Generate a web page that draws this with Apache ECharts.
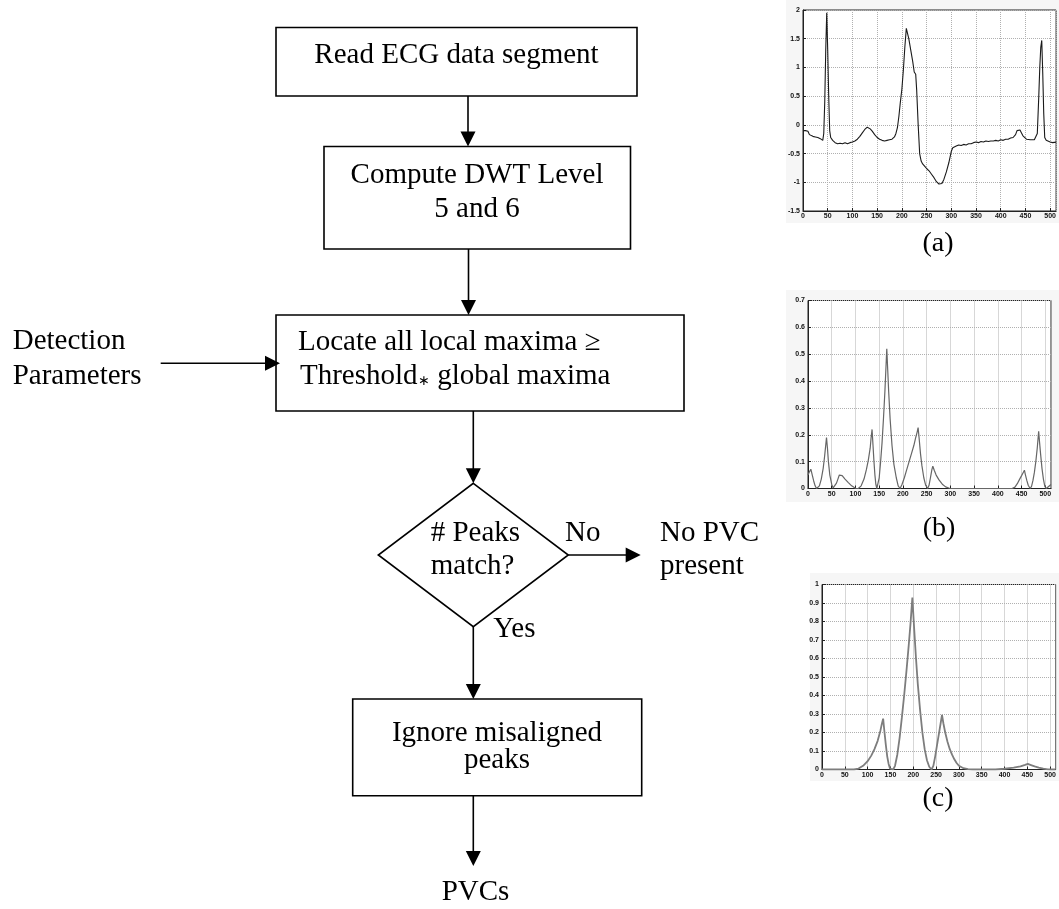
<!DOCTYPE html>
<html>
<head>
<meta charset="utf-8">
<script src="https://cdn.jsdelivr.net/npm/echarts@6/dist/echarts.min.js"></script>
<style>
html,body{margin:0;padding:0;background:#fff;}
#c{width:1059px;height:909px;}
</style>
</head>
<body>
<div id="c"></div>
<script>
// ---------- Data ----------
// (a) ECG data segment
const ecgX = [0,5,10,13,16,20,25,30,35,38,40,42,44,46,48,50,52,54,56,60,65,70,75,80,85,90,95,100,105,110,115,120,125,130,133,136,140,145,150,155,160,165,170,175,180,185,188,191,194,197,200,203,206,209,211,214,218,222,225,228,230,233,236,239,242,246,250,255,260,265,270,275,278,281,285,290,295,300,303,306,310,315,320,325,330,335,340,345,350,355,360,365,370,375,380,385,390,395,400,405,410,415,420,425,430,433,436,439,442,445,448,452,456,460,464,468,471,474,477,479,481,483,485,487,489,492,496,500,505,512];
const ecgY = [-0.1,-0.1,-0.11,-0.17,-0.2,-0.2,-0.21,-0.22,-0.24,-0.26,-0.27,-0.15,0.4,1.3,1.95,1.3,0.5,-0.1,-0.22,-0.27,-0.31,-0.33,-0.32,-0.33,-0.31,-0.33,-0.31,-0.3,-0.28,-0.25,-0.2,-0.14,-0.08,-0.04,-0.05,-0.07,-0.11,-0.17,-0.22,-0.25,-0.27,-0.28,-0.27,-0.26,-0.25,-0.21,-0.15,-0.05,0.15,0.4,0.62,0.95,1.35,1.68,1.66,1.5,1.3,1.1,0.92,0.88,0.6,0.0,-0.5,-0.63,-0.68,-0.72,-0.76,-0.8,-0.86,-0.92,-0.99,-1.03,-1.04,-1.02,-0.95,-0.82,-0.66,-0.46,-0.4,-0.37,-0.37,-0.35,-0.36,-0.34,-0.35,-0.33,-0.33,-0.31,-0.3,-0.31,-0.29,-0.3,-0.28,-0.29,-0.28,-0.28,-0.27,-0.28,-0.26,-0.27,-0.25,-0.25,-0.23,-0.22,-0.17,-0.1,-0.07,-0.09,-0.14,-0.19,-0.22,-0.25,-0.27,-0.26,-0.25,-0.26,-0.25,-0.15,0.5,1.0,1.35,1.47,0.9,0.2,-0.22,-0.27,-0.28,-0.3,-0.31,-0.3];

// (b) DWT level 5 detail magnitude
const d5X = [0,3,6,9,12,15,18,21,24,28,32,35,37,39,41,43,46,50,53,55,57,60,63,66,68,72,78,85,92,100,106,112,118,123,127,131,133,135,137,139,141,143,145,147,150,153,156,159,162,164,166,168,170,173,177,181,186,190,194,198,203,208,213,218,223,227,230,232,234,237,240,244,248,252,255,258,261,263,266,270,276,283,290,298,305,430,436,441,446,450,453,456,458,461,464,468,471,474,477,480,483,486,488,490,493,496,499,502,506,512];
const d5Y = [0.05,0.062,0.072,0.05,0.028,0.01,0.0,0.0,0.01,0.035,0.075,0.12,0.155,0.19,0.15,0.1,0.05,0.015,0.002,0.0,0.005,0.02,0.035,0.05,0.056,0.048,0.035,0.022,0.01,0.001,0.0,0.01,0.035,0.07,0.105,0.15,0.19,0.22,0.16,0.1,0.05,0.015,0.0,0.005,0.04,0.1,0.17,0.26,0.36,0.44,0.52,0.44,0.36,0.26,0.16,0.09,0.04,0.01,0.0,0.015,0.04,0.07,0.1,0.13,0.16,0.19,0.21,0.227,0.19,0.13,0.085,0.04,0.012,0.0,0.012,0.04,0.07,0.083,0.068,0.05,0.032,0.016,0.006,0.001,0.0,0.0,0.005,0.018,0.035,0.048,0.058,0.068,0.052,0.03,0.012,0.0,0.008,0.03,0.06,0.1,0.15,0.213,0.17,0.13,0.075,0.035,0.008,0.0,0.005,0.015];

// (c) DWT level 6 detail magnitude
const d6X = [0,20,40,60,70,80,90,100,108,115,122,128,131,134,137,140,143,146,149,152,156,160,165,170,175,180,185,190,194,198,202,206,210,215,220,225,230,235,240,244,248,252,256,260,263,266,270,275,280,285,290,295,300,310,320,330,380,400,420,435,445,451,458,466,475,485,495,500,512];
const d6Y = [0,0,0,0,0,0.005,0.02,0.045,0.075,0.11,0.155,0.21,0.245,0.275,0.2,0.13,0.07,0.03,0.005,0,0,0.02,0.08,0.17,0.28,0.4,0.53,0.67,0.79,0.93,0.76,0.6,0.46,0.32,0.2,0.11,0.05,0.015,0,0.02,0.07,0.13,0.19,0.25,0.295,0.25,0.2,0.15,0.11,0.08,0.055,0.035,0.02,0.007,0.002,0,0,0.004,0.01,0.017,0.025,0.03,0.024,0.017,0.01,0.005,0.001,0,0];

// Axis settings
const xTickStep = 50, xMax = 512;
const aRange = [-1.5, 2, 0.5];
const bRange = [0, 0.7, 0.1];
const cRange = [0, 1, 0.1];
const panelLabels = ['(a)', '(b)', '(c)'];

// ---------- Rendering ----------
const pairs = (xs, ys) => xs.map((x, i) => [x, ys[i]]);
const chart = echarts.init(document.getElementById('c'), null, {renderer: 'canvas'});

const SERIF = '"Liberation Serif", "Times New Roman", serif';
const FS = 29;
const BLACK = '#000';

function txt(s, x, baseline, align, size) {
  size = size || FS;
  return {type: 'text', z: 10, style: {text: s, x: x, y: baseline - size * 0.34,
    font: size + 'px ' + SERIF, fill: BLACK, textAlign: align || 'center', textVerticalAlign: 'middle'}};
}
function rect(x, y, w, h) {
  return {type: 'rect', z: 5, shape: {x: x, y: y, width: w, height: h},
    style: {fill: 'rgba(0,0,0,0)', stroke: BLACK, lineWidth: 1.6}};
}
function vArrow(x, y1, tip) {
  return [
    {type: 'line', z: 5, shape: {x1: x, y1: y1, x2: x, y2: tip - 14}, style: {stroke: BLACK, lineWidth: 1.6}},
    {type: 'polygon', z: 5, shape: {points: [[x - 7.5, tip - 15], [x + 7.5, tip - 15], [x, tip]]}, style: {fill: BLACK}}
  ];
}
function hArrow(y, x1, tip) {
  return [
    {type: 'line', z: 5, shape: {x1: x1, y1: y, x2: tip - 14, y2: y}, style: {stroke: BLACK, lineWidth: 1.6}},
    {type: 'polygon', z: 5, shape: {points: [[tip - 15, y - 7.5], [tip - 15, y + 7.5], [tip, y]]}, style: {fill: BLACK}}
  ];
}

const graphics = [
  // faint grey backgrounds of the pasted plots
  {type: 'rect', z: -10, shape: {x: 786, y: 0, width: 273, height: 223}, style: {fill: '#f6f6f6'}},
  {type: 'rect', z: -10, shape: {x: 786, y: 290, width: 273, height: 212}, style: {fill: '#f6f6f6'}},
  {type: 'rect', z: -10, shape: {x: 810, y: 573, width: 249, height: 208}, style: {fill: '#f6f6f6'}},

  rect(276, 27.5, 361, 68.5),
  txt('Read ECG data segment', 456.5, 65),
  ...vArrow(468, 96, 146.5),
  rect(324, 146.5, 306.5, 102.5),
  txt('Compute DWT Level', 477, 185),
  txt('5 and 6', 477, 219),
  ...vArrow(468.5, 249, 315),
  rect(276, 315, 408, 96),
  txt('Locate all local maxima \u2265', 298, 352.7, 'left'),
  txt('Threshold', 300, 386.7, 'left'),
  {type: 'text', z: 10, style: {text: '\u2217', x: 424, y: 381.5, font: '14px ' + SERIF, fill: BLACK,
    textAlign: 'center', textVerticalAlign: 'middle'}},
  txt('global maxima', 437.3, 386.7, 'left'),
  txt('Detection', 12.7, 351.7, 'left'),
  txt('Parameters', 12.7, 386, 'left'),
  ...hArrow(363.3, 160.7, 280),
  ...vArrow(473.3, 411, 483.3),
  {type: 'polygon', z: 5, shape: {points: [[473.3, 483.3], [568.3, 555], [473.3, 626.7], [378.3, 555]]},
    style: {fill: 'rgba(0,0,0,0)', stroke: BLACK, lineWidth: 1.6}},
  txt('# Peaks', 430.7, 543.3, 'left'),
  txt('match?', 430.7, 576.7, 'left'),
  txt('No', 565, 543.3, 'left'),
  ...hArrow(555, 568.3, 640.7),
  txt('No PVC', 660, 543.3, 'left'),
  txt('present', 660, 576.7, 'left'),
  txt('Yes', 493.3, 639.3, 'left'),
  ...vArrow(473.3, 626.7, 699),
  rect(352.7, 699, 289, 96.7),
  txt('Ignore misaligned', 497, 743.3),
  txt('peaks', 497, 770),
  ...vArrow(473.3, 795.7, 866),
  txt('PVCs', 475.5, 902.7),

  txt(panelLabels[0], 938, 253.5, 'center', 28),
  txt(panelLabels[1], 939, 538.5, 'center', 28),
  txt(panelLabels[2], 938, 808.5, 'center', 28)
];

const grids = [
  {left: 803, top: 10, width: 260, height: 201},
  {left: 808, top: 300.5, width: 243, height: 188},
  {left: 822, top: 584.5, width: 243.5, height: 185}
].map(g => Object.assign({show: true, backgroundColor: '#fff', borderColor: '#222', borderWidth: 1, containLabel: false}, g));

const labelStyle = {fontSize: 7, fontWeight: 'bold', color: '#111', fontFamily: '"Liberation Sans", Arial, sans-serif'};
const split = {show: true, lineStyle: {type: 'dotted', color: '#b0b0b0', width: 1}};

const xAxes = [0, 1, 2].map(i => ({
  type: 'value', gridIndex: i, min: 0, max: xMax, interval: xTickStep,
  axisLine: {show: true, onZero: false, lineStyle: {color: '#222', width: 1}},
  axisTick: {show: true, inside: true, length: 3, lineStyle: {color: '#222'}},
  axisLabel: Object.assign({margin: 2, showMaxLabel: false,
    formatter: v => (Math.abs(v % xTickStep) < 1e-9 ? String(v) : '')}, labelStyle),
  splitLine: split
}));
const ranges = [aRange, bRange, cRange];
const yAxes = ranges.map((r, i) => ({
  type: 'value', gridIndex: i, min: r[0], max: r[1], interval: r[2],
  axisLine: {show: true, onZero: false, lineStyle: {color: '#222', width: 1}},
  axisTick: {show: true, inside: true, length: 3, lineStyle: {color: '#222'}},
  axisLabel: Object.assign({margin: 3, formatter: v => String(+v.toFixed(2))}, labelStyle),
  splitLine: split
}));

const lineSeries = [
  {data: pairs(ecgX, ecgY), color: '#1a1a1a', width: 1.1},
  {data: pairs(d5X, d5Y), color: '#666', width: 1.2},
  {data: pairs(d6X, d6Y), color: '#7d7d7d', width: 1.8}
].map((s, i) => ({
  type: 'line', xAxisIndex: i, yAxisIndex: i, data: s.data, showSymbol: false, symbol: 'none',
  smooth: false, animation: false, clip: true,
  lineStyle: {color: s.color, width: s.width}
}));

chart.setOption({
  animation: false,
  backgroundColor: '#fff',
  grid: grids,
  xAxis: xAxes,
  yAxis: yAxes,
  series: lineSeries,
  graphic: {elements: graphics}
});
</script>
</body>
</html>
